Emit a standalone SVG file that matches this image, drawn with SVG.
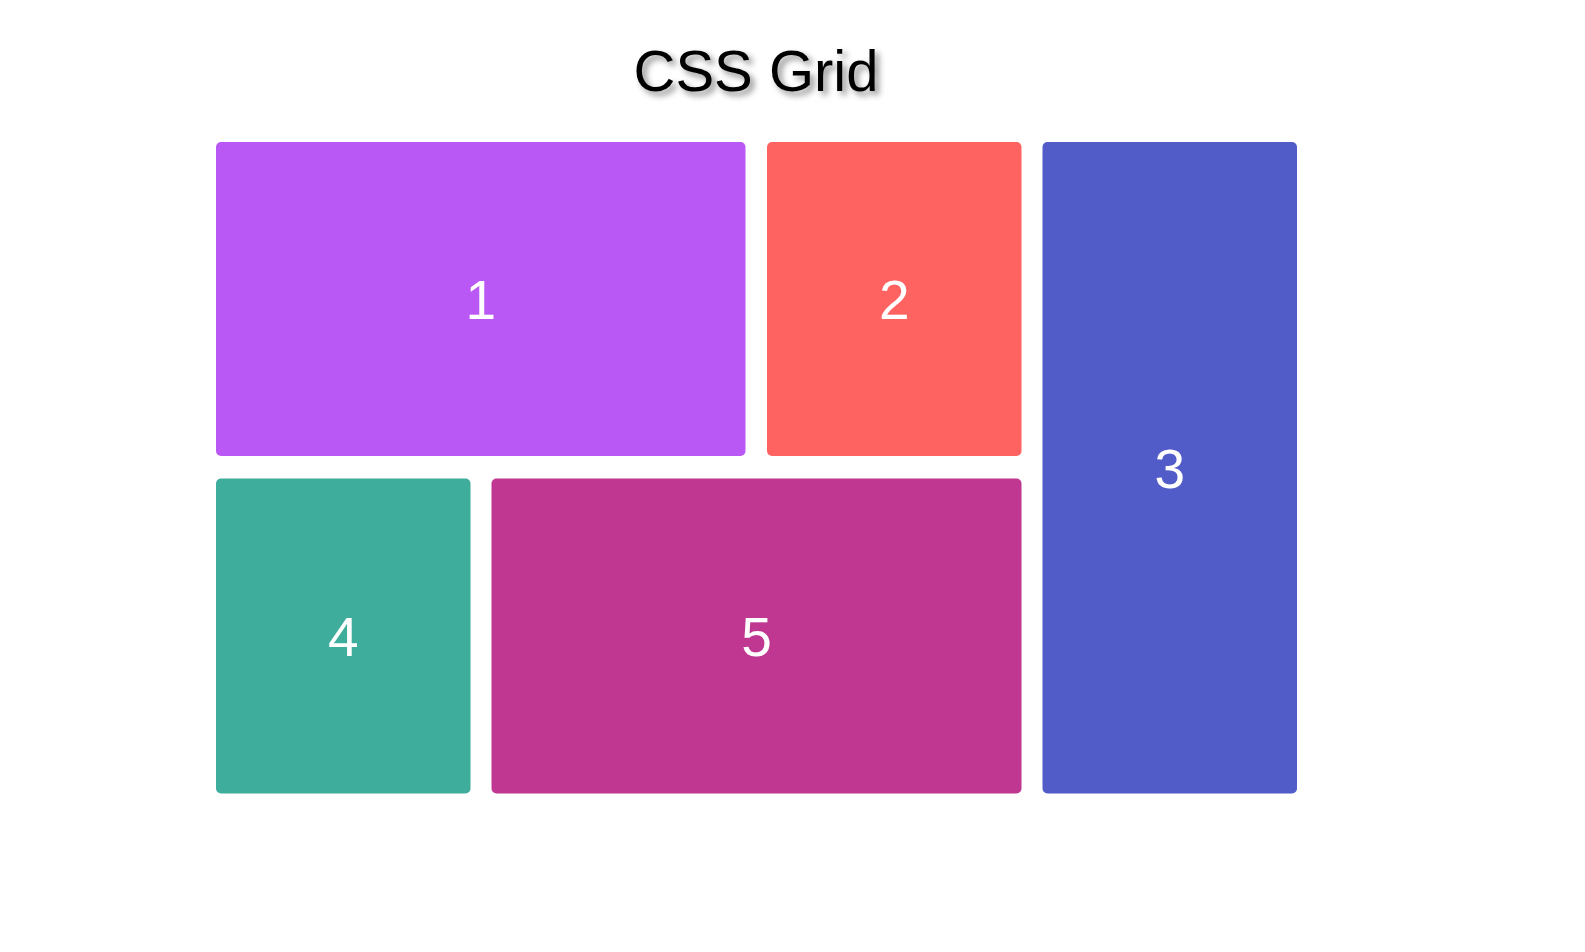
<svg xmlns="http://www.w3.org/2000/svg" width="1585" height="952" viewBox="0 0 1585 952">
  <defs>
    <filter id="shadow" x="-20%" y="-40%" width="140%" height="180%">
      <feDropShadow dx="4" dy="4" stdDeviation="3" flood-color="#000" flood-opacity="0.45"/>
    </filter>
    <style>
      .num { font-family: "Liberation Sans", Arial, sans-serif; font-size: 55px; fill: #ffffff; text-anchor: middle; }
      .title { font-family: "Liberation Sans", Arial, sans-serif; font-size: 58px; fill: #000000; text-anchor: middle; }
    </style>
  </defs>
  <rect width="1585" height="952" fill="#ffffff"/>
  <text class="title" x="756" y="91" filter="url(#shadow)">CSS Grid</text>
  <g id="item1">
    <rect x="216" y="142" width="529.5" height="314" rx="5" fill="#BA58F5"/>
    <text class="num" x="480.75" y="318.5">1</text>
  </g>
  <g id="item2">
    <rect x="767" y="142" width="254.5" height="314" rx="5" fill="#FF6361"/>
    <text class="num" x="894.25" y="318.5">2</text>
  </g>
  <g id="item3">
    <rect x="1042.5" y="142" width="254.5" height="651.5" rx="5" fill="#515CC9"/>
    <text class="num" x="1169.75" y="487.5">3</text>
  </g>
  <g id="item4">
    <rect x="216" y="478.5" width="254.5" height="315" rx="5" fill="#3FAD9B"/>
    <text class="num" x="343.25" y="655.5">4</text>
  </g>
  <g id="item5">
    <rect x="491.5" y="478.5" width="530" height="315" rx="5" fill="#BF3790"/>
    <text class="num" x="756.5" y="655.5">5</text>
  </g>
  <g id="connectors"></g>
</svg>
